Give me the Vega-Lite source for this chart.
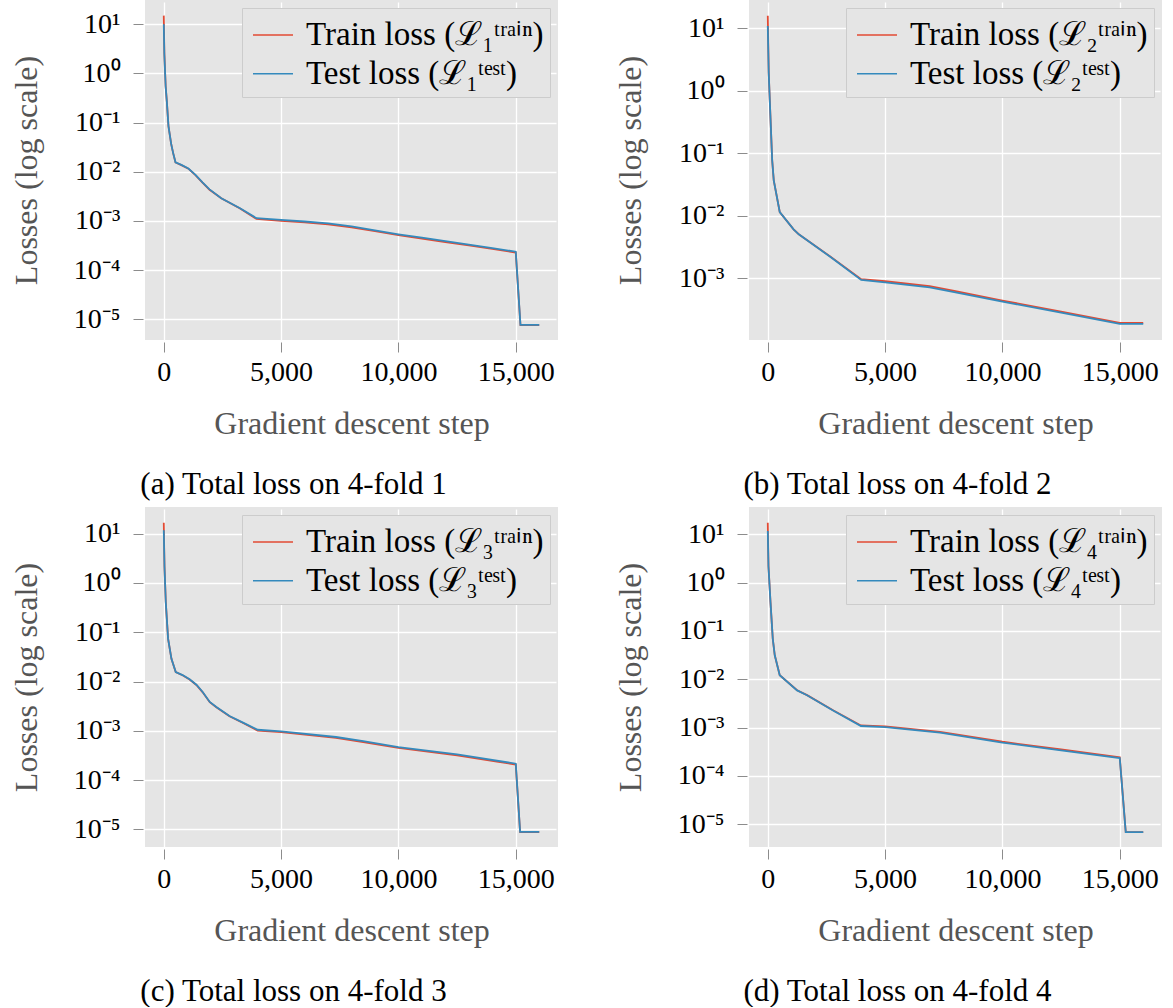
{
  "$schema": "https://vega.github.io/schema/vega-lite/v6.json",
  "padding": {"left": 10, "top": 0, "right": 11, "bottom": 0},
  "background": "#FFFFFF",
  "data": {
    "values": [
      {"fold": 1, "step": 0, "train": 15.0, "test": 10.0},
      {"fold": 1, "step": 25, "train": 2.6, "test": 2.4},
      {"fold": 1, "step": 80, "train": 0.55, "test": 0.54},
      {"fold": 1, "step": 130, "train": 0.27, "test": 0.27},
      {"fold": 1, "step": 200, "train": 0.085, "test": 0.085},
      {"fold": 1, "step": 315, "train": 0.037, "test": 0.037},
      {"fold": 1, "step": 400, "train": 0.024, "test": 0.024},
      {"fold": 1, "step": 500, "train": 0.0155, "test": 0.0156},
      {"fold": 1, "step": 750, "train": 0.0137, "test": 0.0138},
      {"fold": 1, "step": 1050, "train": 0.0116, "test": 0.0117},
      {"fold": 1, "step": 1350, "train": 0.0086, "test": 0.0087},
      {"fold": 1, "step": 1650, "train": 0.0060, "test": 0.0061},
      {"fold": 1, "step": 1950, "train": 0.0043, "test": 0.0044},
      {"fold": 1, "step": 2450, "train": 0.0029, "test": 0.0029},
      {"fold": 1, "step": 3250, "train": 0.00180, "test": 0.00182},
      {"fold": 1, "step": 3950, "train": 0.00110, "test": 0.00114},
      {"fold": 1, "step": 5000, "train": 0.00101, "test": 0.00105},
      {"fold": 1, "step": 6000, "train": 0.000938, "test": 0.000977},
      {"fold": 1, "step": 7000, "train": 0.000855, "test": 0.000891},
      {"fold": 1, "step": 8000, "train": 0.000745, "test": 0.000776},
      {"fold": 1, "step": 9000, "train": 0.000620, "test": 0.000646},
      {"fold": 1, "step": 10000, "train": 0.000516, "test": 0.000537},
      {"fold": 1, "step": 11000, "train": 0.000439, "test": 0.000457},
      {"fold": 1, "step": 12000, "train": 0.000373, "test": 0.000389},
      {"fold": 1, "step": 13000, "train": 0.000318, "test": 0.000331},
      {"fold": 1, "step": 14000, "train": 0.000271, "test": 0.000282},
      {"fold": 1, "step": 15000, "train": 0.000228, "test": 0.000237},
      {"fold": 1, "step": 15200, "train": 0.0000076, "test": 0.0000077},
      {"fold": 1, "step": 16000, "train": 0.0000076, "test": 0.0000077},

      {"fold": 2, "step": 0, "train": 15.9, "test": 10.9},
      {"fold": 2, "step": 40, "train": 2.0, "test": 1.95},
      {"fold": 2, "step": 85, "train": 0.71, "test": 0.71},
      {"fold": 2, "step": 187, "train": 0.078, "test": 0.078},
      {"fold": 2, "step": 255, "train": 0.037, "test": 0.037},
      {"fold": 2, "step": 510, "train": 0.0115, "test": 0.0115},
      {"fold": 2, "step": 1100, "train": 0.00608, "test": 0.00606},
      {"fold": 2, "step": 1320, "train": 0.00507, "test": 0.00505},
      {"fold": 2, "step": 2660, "train": 0.00224, "test": 0.00221},
      {"fold": 2, "step": 3980, "train": 0.000970, "test": 0.000940},
      {"fold": 2, "step": 5000, "train": 0.000897, "test": 0.000863},
      {"fold": 2, "step": 6900, "train": 0.000747, "test": 0.000718},
      {"fold": 2, "step": 8000, "train": 0.000621, "test": 0.000597},
      {"fold": 2, "step": 10000, "train": 0.000440, "test": 0.000423},
      {"fold": 2, "step": 12500, "train": 0.000293, "test": 0.000282},
      {"fold": 2, "step": 15000, "train": 0.000193, "test": 0.000186},
      {"fold": 2, "step": 16000, "train": 0.000193, "test": 0.000186},

      {"fold": 3, "step": 0, "train": 16.7, "test": 11.7},
      {"fold": 3, "step": 30, "train": 2.2, "test": 2.15},
      {"fold": 3, "step": 85, "train": 0.41, "test": 0.41},
      {"fold": 3, "step": 183, "train": 0.074, "test": 0.074},
      {"fold": 3, "step": 327, "train": 0.0288, "test": 0.0288},
      {"fold": 3, "step": 510, "train": 0.0155, "test": 0.0156},
      {"fold": 3, "step": 800, "train": 0.0134, "test": 0.0135},
      {"fold": 3, "step": 1100, "train": 0.0110, "test": 0.0111},
      {"fold": 3, "step": 1390, "train": 0.0085, "test": 0.0086},
      {"fold": 3, "step": 1650, "train": 0.0061, "test": 0.0062},
      {"fold": 3, "step": 1960, "train": 0.00380, "test": 0.00384},
      {"fold": 3, "step": 2240, "train": 0.00300, "test": 0.00304},
      {"fold": 3, "step": 2800, "train": 0.00197, "test": 0.00200},
      {"fold": 3, "step": 3400, "train": 0.00142, "test": 0.00145},
      {"fold": 3, "step": 4000, "train": 0.00101, "test": 0.00105},
      {"fold": 3, "step": 5000, "train": 0.000938, "test": 0.000977},
      {"fold": 3, "step": 7340, "train": 0.000718, "test": 0.000748},
      {"fold": 3, "step": 8500, "train": 0.000592, "test": 0.000617},
      {"fold": 3, "step": 10000, "train": 0.000449, "test": 0.000468},
      {"fold": 3, "step": 12500, "train": 0.000318, "test": 0.000331},
      {"fold": 3, "step": 15000, "train": 0.000206, "test": 0.000215},
      {"fold": 3, "step": 15185, "train": 0.0000088, "test": 0.0000089},
      {"fold": 3, "step": 16000, "train": 0.0000088, "test": 0.0000089},

      {"fold": 4, "step": 0, "train": 17.4, "test": 11.7},
      {"fold": 4, "step": 30, "train": 2.2, "test": 2.15},
      {"fold": 4, "step": 115, "train": 0.40, "test": 0.40},
      {"fold": 4, "step": 213, "train": 0.069, "test": 0.069},
      {"fold": 4, "step": 298, "train": 0.0313, "test": 0.0313},
      {"fold": 4, "step": 510, "train": 0.0121, "test": 0.0121},
      {"fold": 4, "step": 1250, "train": 0.00592, "test": 0.00589},
      {"fold": 4, "step": 1675, "train": 0.00471, "test": 0.00468},
      {"fold": 4, "step": 2800, "train": 0.00227, "test": 0.00224},
      {"fold": 4, "step": 3970, "train": 0.00111, "test": 0.00108},
      {"fold": 4, "step": 5000, "train": 0.00106, "test": 0.00102},
      {"fold": 4, "step": 7340, "train": 0.000816, "test": 0.000785},
      {"fold": 4, "step": 10000, "train": 0.000510, "test": 0.000490},
      {"fold": 4, "step": 12500, "train": 0.000353, "test": 0.000339},
      {"fold": 4, "step": 15000, "train": 0.000243, "test": 0.000234},
      {"fold": 4, "step": 15255, "train": 0.0000069, "test": 0.0000069},
      {"fold": 4, "step": 16000, "train": 0.0000069, "test": 0.0000069}
    ]
  },
  "spacing": 7,
  "vconcat": [
    {
      "spacing": 56,
      "hconcat": [
        {
          "width": 413, "height": 340,
          "title": {"text": "(a) Total loss on 4-fold 1"},
          "transform": [{"filter": "datum.fold == 1"}, {"fold": ["train", "test"], "as": ["series", "loss"]}],
          "encoding": {
            "x": {"field": "step", "type": "quantitative", "scale": {"domain": [-800, 16800], "nice": false, "zero": false}, "axis": {"values": [0, 5000, 10000, 15000], "format": ",d", "title": "Gradient descent step"}},
            "y": {"field": "loss", "type": "quantitative", "scale": {"type": "log", "domain": [3.8e-6, 31.19], "nice": false}, "axis": {"values": [1e-5, 1e-4, 1e-3, 1e-2, 1e-1, 1, 10], "title": "Losses (log scale)", "labelExpr": "'10' + (datum.value < 0.5 ? '⁻' : '') + ['⁰','¹','²','³','⁴','⁵','⁶','⁷','⁸','⁹'][abs(round(log(datum.value) / LN10))]"}},
            "color": {"field": "series", "type": "nominal", "scale": {"domain": ["train", "test"], "range": ["#E24A33", "#348ABD"]}, "legend": {"title": null, "labelExpr": "datum.label == 'train' ? 'Train loss (ℒ₁ᵗʳᵃⁱⁿ)' : 'Test loss (ℒ₁ᵗᵉˢᵗ)'"}}
          },
          "layer": [
            {"transform": [{"filter": "datum.series == 'train'"}], "mark": {"type": "line", "strokeWidth": 1.8}},
            {"transform": [{"filter": "datum.series == 'test'"}], "mark": {"type": "line", "strokeWidth": 1.8}}
          ]
        },
        {
          "width": 413, "height": 340,
          "title": {"text": "(b) Total loss on 4-fold 2"},
          "transform": [{"filter": "datum.fold == 2"}, {"fold": ["train", "test"], "as": ["series", "loss"]}],
          "encoding": {
            "x": {"field": "step", "type": "quantitative", "scale": {"domain": [-800, 16800], "nice": false, "zero": false}, "axis": {"values": [0, 5000, 10000, 15000], "format": ",d", "title": "Gradient descent step"}},
            "y": {"field": "loss", "type": "quantitative", "scale": {"type": "log", "domain": [1.03e-4, 28.38], "nice": false}, "axis": {"values": [1e-3, 1e-2, 1e-1, 1, 10], "title": "Losses (log scale)", "labelExpr": "'10' + (datum.value < 0.5 ? '⁻' : '') + ['⁰','¹','²','³','⁴','⁵','⁶','⁷','⁸','⁹'][abs(round(log(datum.value) / LN10))]"}},
            "color": {"field": "series", "type": "nominal", "scale": {"domain": ["train", "test"], "range": ["#E24A33", "#348ABD"]}, "legend": {"title": null, "labelExpr": "datum.label == 'train' ? 'Train loss (ℒ₂ᵗʳᵃⁱⁿ)' : 'Test loss (ℒ₂ᵗᵉˢᵗ)'"}}
          },
          "layer": [
            {"transform": [{"filter": "datum.series == 'train'"}], "mark": {"type": "line", "strokeWidth": 1.8}},
            {"transform": [{"filter": "datum.series == 'test'"}], "mark": {"type": "line", "strokeWidth": 1.8}}
          ]
        }
      ],
      "resolve": {"scale": {"color": "independent", "x": "independent", "y": "independent"}, "legend": {"color": "independent"}}
    },
    {
      "spacing": 56,
      "hconcat": [
        {
          "width": 413, "height": 340,
          "title": {"text": "(c) Total loss on 4-fold 3"},
          "transform": [{"filter": "datum.fold == 3"}, {"fold": ["train", "test"], "as": ["series", "loss"]}],
          "encoding": {
            "x": {"field": "step", "type": "quantitative", "scale": {"domain": [-800, 16800], "nice": false, "zero": false}, "axis": {"values": [0, 5000, 10000, 15000], "format": ",d", "title": "Gradient descent step"}},
            "y": {"field": "loss", "type": "quantitative", "scale": {"type": "log", "domain": [4.38e-6, 34.8], "nice": false}, "axis": {"values": [1e-5, 1e-4, 1e-3, 1e-2, 1e-1, 1, 10], "title": "Losses (log scale)", "labelExpr": "'10' + (datum.value < 0.5 ? '⁻' : '') + ['⁰','¹','²','³','⁴','⁵','⁶','⁷','⁸','⁹'][abs(round(log(datum.value) / LN10))]"}},
            "color": {"field": "series", "type": "nominal", "scale": {"domain": ["train", "test"], "range": ["#E24A33", "#348ABD"]}, "legend": {"title": null, "labelExpr": "datum.label == 'train' ? 'Train loss (ℒ₃ᵗʳᵃⁱⁿ)' : 'Test loss (ℒ₃ᵗᵉˢᵗ)'"}}
          },
          "layer": [
            {"transform": [{"filter": "datum.series == 'train'"}], "mark": {"type": "line", "strokeWidth": 1.8}},
            {"transform": [{"filter": "datum.series == 'test'"}], "mark": {"type": "line", "strokeWidth": 1.8}}
          ]
        },
        {
          "width": 413, "height": 340,
          "title": {"text": "(d) Total loss on 4-fold 4"},
          "transform": [{"filter": "datum.fold == 4"}, {"fold": ["train", "test"], "as": ["series", "loss"]}],
          "encoding": {
            "x": {"field": "step", "type": "quantitative", "scale": {"domain": [-800, 16800], "nice": false, "zero": false}, "axis": {"values": [0, 5000, 10000, 15000], "format": ",d", "title": "Gradient descent step"}},
            "y": {"field": "loss", "type": "quantitative", "scale": {"type": "log", "domain": [3.39e-6, 36.7], "nice": false}, "axis": {"values": [1e-5, 1e-4, 1e-3, 1e-2, 1e-1, 1, 10], "title": "Losses (log scale)", "labelExpr": "'10' + (datum.value < 0.5 ? '⁻' : '') + ['⁰','¹','²','³','⁴','⁵','⁶','⁷','⁸','⁹'][abs(round(log(datum.value) / LN10))]"}},
            "color": {"field": "series", "type": "nominal", "scale": {"domain": ["train", "test"], "range": ["#E24A33", "#348ABD"]}, "legend": {"title": null, "labelExpr": "datum.label == 'train' ? 'Train loss (ℒ₄ᵗʳᵃⁱⁿ)' : 'Test loss (ℒ₄ᵗᵉˢᵗ)'"}}
          },
          "layer": [
            {"transform": [{"filter": "datum.series == 'train'"}], "mark": {"type": "line", "strokeWidth": 1.8}},
            {"transform": [{"filter": "datum.series == 'test'"}], "mark": {"type": "line", "strokeWidth": 1.8}}
          ]
        }
      ],
      "resolve": {"scale": {"color": "independent", "x": "independent", "y": "independent"}, "legend": {"color": "independent"}}
    }
  ],
  "config": {
    "view": {"fill": "#E5E5E5", "stroke": null},
    "axis": {
      "domain": false,
      "grid": true,
      "gridColor": "#FFFFFF",
      "gridWidth": 1.3,
      "tickColor": "#8C8C8C",
      "tickSize": 10,
      "tickWidth": 1,
      "offset": 2,
      "labelFont": "Liberation Serif",
      "labelFontSize": 28,
      "labelColor": "#000000",
      "titleFont": "Liberation Serif",
      "titleFontSize": 32,
      "titleFontWeight": "normal",
      "titleColor": "#555555"
    },
    "axisX": {"labelPadding": 6, "titlePadding": 22, "labelFlush": false},
    "axisY": {"labelPadding": 13, "titlePadding": 12, "minExtent": 88, "maxExtent": 88},
    "legend": {
      "orient": "top-right",
      "offset": 8,
      "padding": 6,
      "fillColor": "#E5E5E5",
      "strokeColor": "#CCCCCC",
      "cornerRadius": 0,
      "labelFont": "Liberation Serif",
      "labelFontSize": 33,
      "labelColor": "#000000",
      "labelLimit": 400,
      "labelOffset": 12,
      "symbolType": "stroke",
      "symbolSize": 1600,
      "symbolOffset": 4,
      "symbolStrokeWidth": 1.6,
      "rowPadding": 0.7
    },
    "title": {
      "font": "Liberation Serif",
      "fontSize": 31,
      "fontWeight": "normal",
      "color": "#000000",
      "orient": "bottom",
      "anchor": "middle",
      "frame": "group",
      "dx": -58,
      "offset": 31
    }
  }
}
